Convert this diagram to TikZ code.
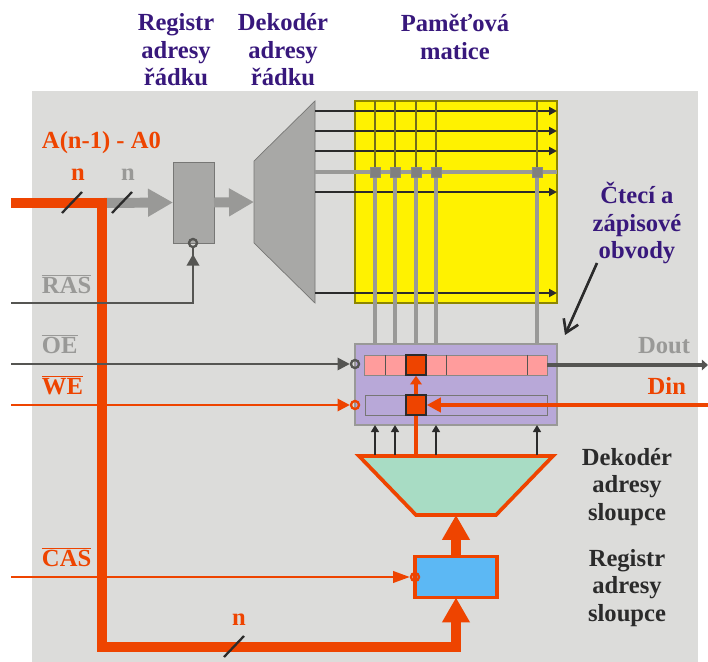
\documentclass[tikz,border=0pt]{standalone}
\usepackage{fontspec}
\setmainfont{Liberation Serif}
\usetikzlibrary{arrows.meta,calc}
\definecolor{bgc}{HTML}{DCDCDA}
\definecolor{redc}{HTML}{EE4400}
\definecolor{arrg}{HTML}{999997}
\definecolor{regg}{HTML}{A8A8A6}
\definecolor{darkg}{HTML}{555552}
\definecolor{purpbox}{HTML}{B8A8D8}
\definecolor{pinkc}{HTML}{FF9C9C}
\definecolor{blue1}{HTML}{5CB8F4}
\definecolor{green1}{HTML}{A8DCC4}
\definecolor{headc}{HTML}{38187C}
\definecolor{textd}{HTML}{2B2B2B}
\definecolor{sqg}{HTML}{808080}
\tikzset{
  x=0.02cm,y=-0.02cm,
  box/.style={draw,rectangle,inner sep=0pt,outer sep=0pt,minimum width=#1},
  h/.style={minimum height=#1},
  lab/.style={inner sep=0pt,outer sep=0pt,font=\fontsize{14}{15.6}\selectfont\bfseries,align=center},
  head/.style={lab,text=headc},
  dtext/.style={lab,text=textd},
  redt/.style={lab,text=redc},
  grayt/.style={lab,text=arrg},
  bigg/.style={draw=arrg,line width=5.67pt,-{Triangle[length=14.2pt,width=15pt,fill=arrg]}},
  bigr/.style={draw=redc,line width=5.67pt,-{Triangle[length=14.2pt,width=15pt,fill=redc]}},
  wordl/.style={draw=textd,line width=1.7pt,-{Triangle[length=4.5pt,width=4.5pt]}},
  bitl/.style={draw=arrg,line width=2pt},
  thinl/.style={draw=olive!75!black,line width=0.7pt},
  ctlw/.style={line width=1.4pt},
  gctl/.style={draw=darkg,ctlw,-{Triangle[length=7pt,width=7pt,fill=darkg]}},
  rctl/.style={draw=redc,ctlw,-{Triangle[length=7pt,width=7pt,fill=redc]}},
  rctll/.style={draw=redc,ctlw,-{Triangle[length=9.5pt,width=6.5pt,fill=redc]}},
  upa/.style={draw=textd,line width=1.5pt,-{Triangle[length=4pt,width=4.5pt]}},
  slash/.style={draw=textd,line width=1.3pt},
  bub/.style={draw,circle,fill=none,inner sep=0pt,minimum size=4.6pt,line width=1.3pt},
  sq/.style={draw=darkg!70,fill=sqg,rectangle,inner sep=0pt,minimum size=5.6pt,line width=0.4pt},
  rsq/.style={draw=textd,fill=redc,rectangle,inner sep=0pt,minimum size=11.3pt,line width=0.9pt},
}
\begin{document}
\begin{tikzpicture}
\useasboundingbox (0,0) rectangle (708,662);
\fill[bgc] (32,91) rectangle (698,662);

% coordinates
\coordinate (addr) at (11,203);
\coordinate (corner) at (102,203);
\coordinate (cornerb) at (102,647);
\coordinate (cornerr) at (456,647);
\coordinate (rasin) at (11,303);
\coordinate (rasc) at (193,303);
\coordinate (oein) at (11,364);
\coordinate (wein) at (11,405);
\coordinate (casin) at (11,577);
\coordinate (doutend) at (708,365);
\coordinate (dinend) at (708,405);
\coordinate (lead) at (597,263);
\coordinate (leadtip) at (565,335);

% matrix
\node[box=202*0.02cm,h=202*0.02cm,draw=olive,fill=yellow,line width=0.6pt] (mat) at (456,202) {};

% row decoder
\fill[regg,draw=darkg!80,line width=0.4pt] (254,161) -- (315,101) -- (315,303) -- (254,243) -- cycle;
\node[inner sep=0pt,outer sep=0pt,minimum width=61*0.02cm,minimum height=202*0.02cm] (rowdec) at (284.5,202) {};
% row register
\node[box=41*0.02cm,h=81*0.02cm,draw=darkg!80,fill=regg,line width=0.4pt] (rreg) at (193.5,202.5) {};

% gray bus arrows
\draw[bigg] (corner) -- (rreg.west);
\draw[bigg] (rreg.east) -- (rowdec.west);

% word lines
\foreach \n/\yy in {1/111,2/131,3/151,5/192,6/293}{
  \coordinate (wl\n) at (315,\yy);
  \draw[wordl] (wl\n) -- (wl\n -| mat.east);
}
\coordinate (wl4) at (315,172);
\draw[draw=arrg,line width=2pt] (wl4) -- (wl4 -| mat.east);

% purple block
\node[box=202*0.02cm,h=81*0.02cm,draw=darkg!60,fill=purpbox,line width=0.6pt] (pbox) at (456,384.5) {};
\node[box=183*0.02cm,h=20*0.02cm,draw=darkg!70,fill=pinkc,line width=0.5pt] (rrow) at (455.5,365) {};
\node[box=182*0.02cm,h=20*0.02cm,draw=darkg!80,fill=none,line width=0.5pt] (wrow) at (456,405) {};
\foreach \xx in {385,446,527}{
  \draw[darkg,line width=0.5pt] (\xx,355) -- (\xx,375);
}

% bit lines
\foreach \n/\xx in {1/375,2/395,3/416,4/436,5/537}{
  \node[sq] (s\n) at (\xx,172) {};
  \draw[bitl] (s\n) -- (s\n |- pbox.north);
  \draw[thinl] (s\n) -- (s\n |- mat.north);
  \node[sq] at (s\n) {};
}

% column decoder
\filldraw[fill=green1,draw=redc,line width=2.1pt,line join=miter] (359,456) -- (553,456) -- (496,515) -- (416,515) -- cycle;
\node[inner sep=0pt,outer sep=0pt,minimum width=200*0.02cm,minimum height=60*0.02cm] (cdec) at (456,485) {};

% column register
\node[box=82*0.02cm,h=41*0.02cm,draw=redc,fill=blue1,line width=2.1pt] (creg) at (456,577) {};

% red squares
\node[rsq] (rs1) at (416,365) {};
\node[rsq] (rs2) at (416,405) {};

% address bus
\draw[bigr,line join=miter] (addr) -- (corner) -- (cornerb) -- (cornerr) -- (creg.south);
\draw[bigr] (creg.north) -- (cdec.south);

% column select arrows
\foreach \n in {1,2,4,5}{
  \draw[upa] (s\n |- cdec.north) -- (s\n |- pbox.south);
}
\draw[draw=redc,line width=2.2pt] (rs2 |- cdec.north) -- (rs2.south);
\draw[draw=redc,line width=2.2pt,-{Triangle[length=5pt,width=6.5pt,fill=redc]}] (rs2.north) -- (rs1.south);

% control lines
\node[bub,draw=darkg] (oeb) at (355,364) {};
\node[bub,draw=redc] (web) at (355,405) {};
\node[bub,draw=redc] (casb) at (415,577) {};
\node[bub,draw=darkg] (rasb) at (193,243) {};
\draw[gctl] (oein) -- (oeb.west);
\draw[rctl] (wein) -- (web.west);
\draw[rctll] (casin) -- (casb.west);
\draw[draw=darkg,ctlw] (rasin) -- (rasc) -- (rasb.south);
\draw[draw=darkg,ctlw,-{Triangle[length=6.5pt,width=7pt,fill=darkg]}] (rasc) -- ($(rasb.south)+(0,6)$);

% data
\draw[draw=darkg,line width=2.8pt,-{Triangle[length=3.5pt,width=6pt,fill=darkg]}] (rrow.east) -- (doutend);
\draw[draw=redc,line width=2.8pt,-{Triangle[length=8pt,width=8pt,fill=redc]}] (dinend) -- (rs2.east);

% pointer
\draw[draw=textd,line width=1.5pt,-{Straight Barb[length=7pt,width=9pt]}] (lead) -- (leadtip);

% slashes
\coordinate (sl1) at (72,203);
\coordinate (sl2) at (122,203);
\coordinate (sl3) at (234,647);
\foreach \n in {1,2,3}{
  \draw[slash] ($(sl\n)+(-10,10)$) -- ($(sl\n)+(10,-11)$);
}

% texts
\node[head] (t1) at (176,50) {Registr\\adresy\\řádku};
\node[head] (t2) at (283,50) {Dekodér\\adresy\\řádku};
\node[head] (t3) at (455,37) {Paměťová\\matice};
\node[head] (t4) at (637,223) {Čtecí a\\zápisové\\obvody};
\node[dtext] (t5) at (627,487) {Dekodér\\adresy\\sloupce};
\node[dtext] (t6) at (627,588) {Registr\\adresy\\sloupce};
\node[redt,anchor=west] (t7) at (42,143) {A(n-1) - A0};
\node[redt] (t8) at (78,175) {n};
\node[grayt] (t9) at (128,175) {n};
\node[redt] (t10) at (239,620) {n};
\node[grayt,anchor=west] (t11) at (42,284) {$\overline{\hbox{RAS}}$};
\node[grayt,anchor=west] (t12) at (42,344) {$\overline{\hbox{OE}}$};
\node[redt,anchor=west] (t13) at (42,385) {$\overline{\hbox{WE}}$};
\node[redt,anchor=west] (t14) at (42,557) {$\overline{\hbox{CAS}}$};
\node[grayt,anchor=east] (t15) at (690,346) {Dout};
\node[redt,anchor=east] (t16) at (686,386) {Din};
\end{tikzpicture}
\end{document}
